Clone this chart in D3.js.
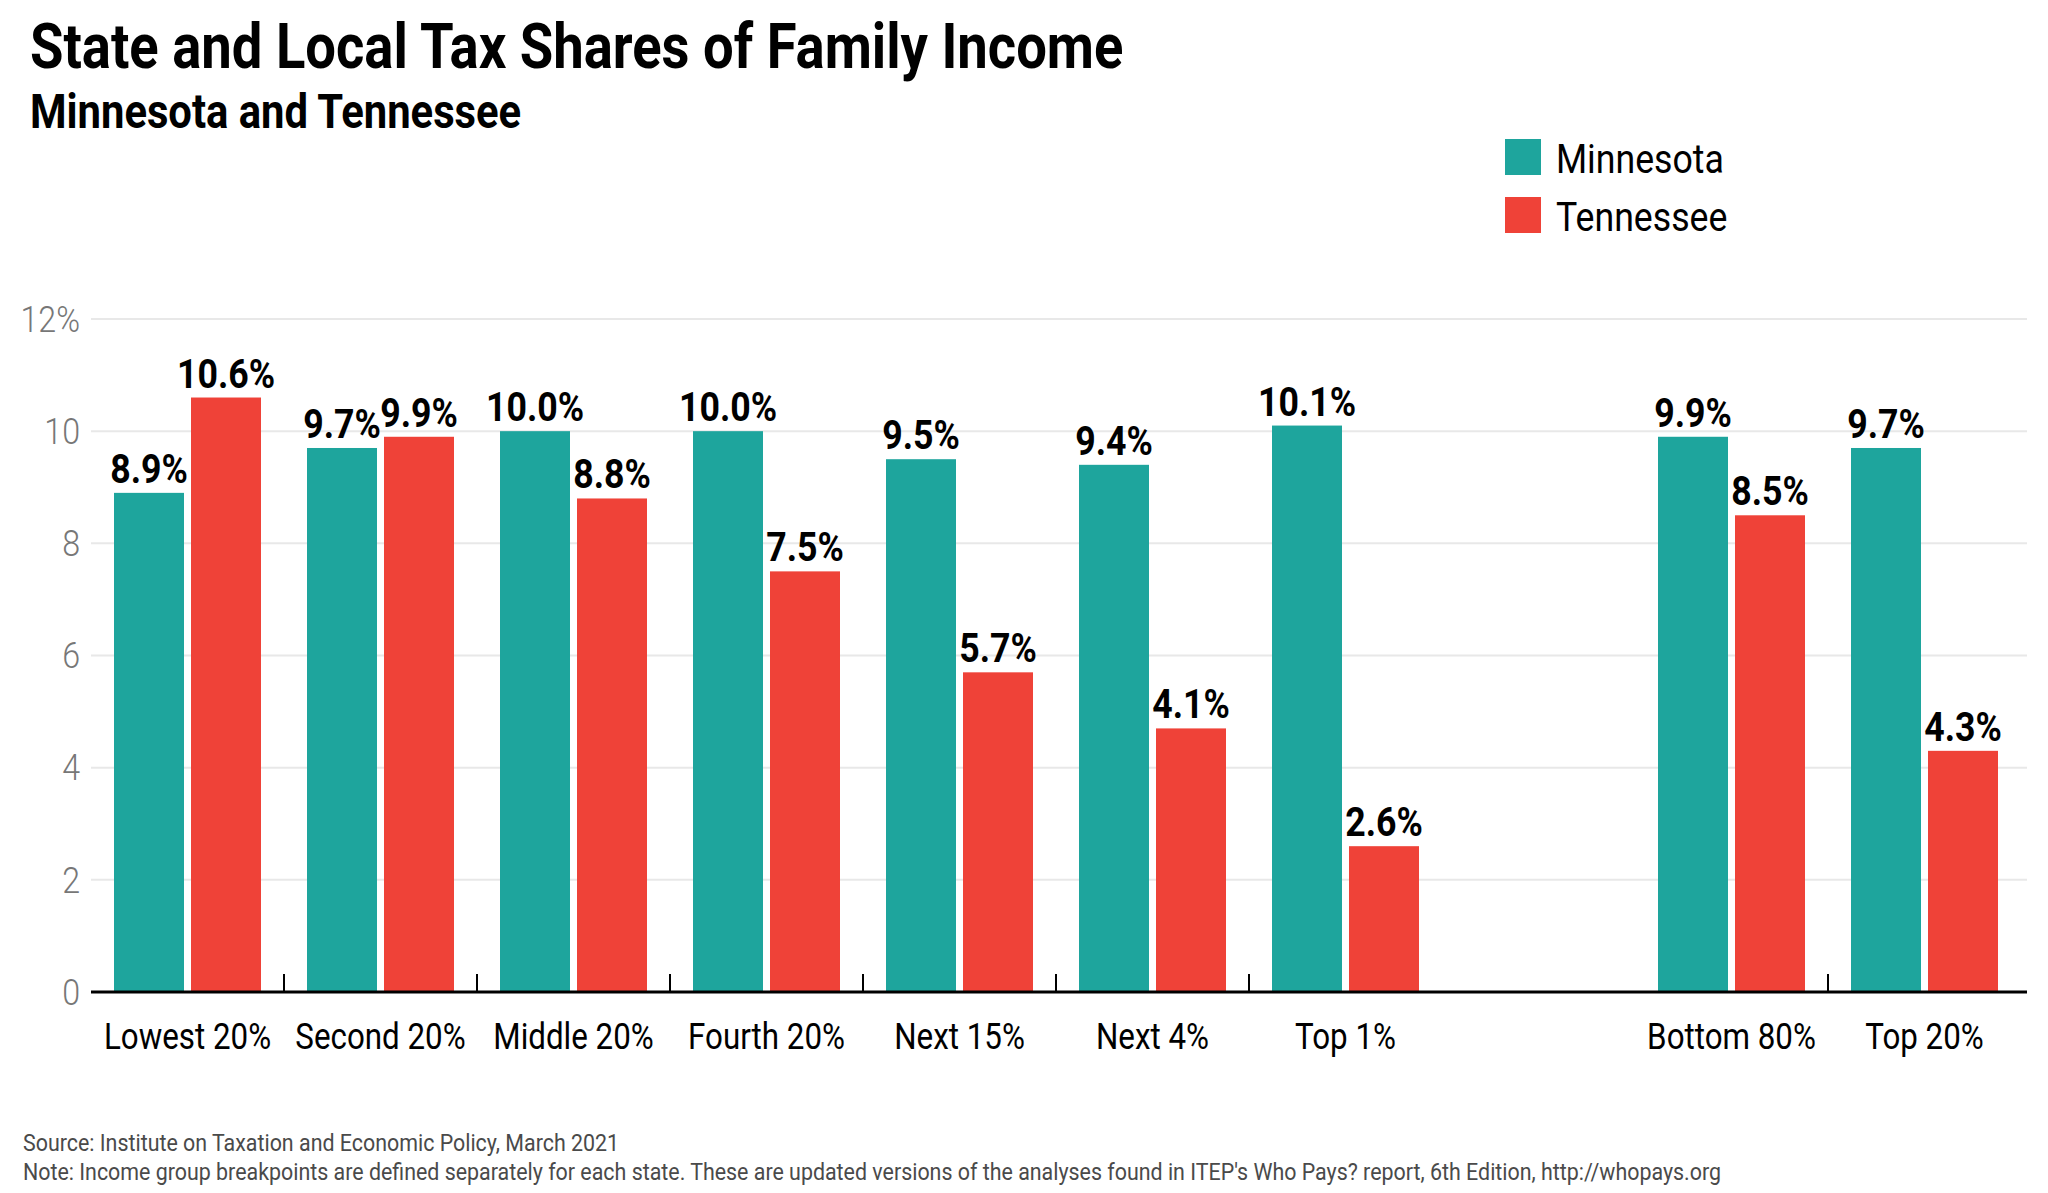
<!DOCTYPE html>
<html lang="en">

<head>
  <meta charset="UTF-8">
  <title>State and Local Tax Shares of Family Income</title>
  <script src="https://d3js.org/d3.v7.min.js"></script>
  <style>
    body {
      margin: 0;
      background: #fff;
    }

    text {
      font-family: Roboto, 'Open Sans', sans-serif;
    }
  </style>
</head>

<body>
  <script>
    var categories = ["Lowest 20%", "Second 20%", "Middle 20%", "Fourth 20%", "Next 15%", "Next 4%", "Top 1%", "Bottom 80%", "Top 20%"];
    var series = ["Minnesota", "Tennessee"];
    var minnesota = [8.9, 9.7, 10.0, 10.0, 9.5, 9.4, 10.1, 9.9, 9.7];
    var tennessee = [10.6, 9.9, 8.8, 7.5, 5.7, 4.7, 2.6, 8.5, 4.3];
    // labels as printed on the chart (Next 4% bar is drawn at 4.7 but labelled 4.1)
    var minnesotaLabels = ["8.9%", "9.7%", "10.0%", "10.0%", "9.5%", "9.4%", "10.1%", "9.9%", "9.7%"];
    var tennesseeLabels = ["10.6%", "9.9%", "8.8%", "7.5%", "5.7%", "4.1%", "2.6%", "8.5%", "4.3%"];
    var yTicks = [0, 2, 4, 6, 8, 10, 12];
    var colors = ["#1ea59d", "#ef4238"];

    var width = 2048,
      height = 1193;

    // condensed look: Roboto squeezed horizontally
    var K = 0.87;

    var svg = d3.select("body").append("svg")
      .attr("width", width)
      .attr("height", height);

    function label(parent, x, y, str, size, weight, fill, anchor) {
      return parent.append("text")
        .attr("transform", "translate(" + x + "," + y + ") scale(" + K + ",1)")
        .attr("font-size", size)
        .attr("font-weight", weight)
        .attr("fill", fill)
        .attr("text-anchor", anchor || "start")
        .text(str);
    }

    // one empty slot between "Top 1%" and "Bottom 80%"
    var slots = categories.slice(0, 7).concat(["_gap"], categories.slice(7));

    var x0 = d3.scaleBand()
      .domain(slots)
      .range([91, 2021]);

    var x1 = d3.scaleBand()
      .domain(series)
      .range([0, x0.bandwidth()])
      .paddingInner(0.0909)
      .paddingOuter(0.2987);

    var y = d3.scaleLinear()
      .domain([0, 12])
      .range([992, 319]);

    // gridlines + y labels
    var grid = svg.append("g");
    grid.selectAll("line")
      .data(yTicks.filter(function (d) { return d > 0; }))
      .enter().append("line")
      .attr("x1", 91)
      .attr("x2", 2027)
      .attr("y1", function (d) { return y(d); })
      .attr("y2", function (d) { return y(d); })
      .attr("stroke", "#e8e8e8")
      .attr("stroke-width", 2);

    yTicks.forEach(function (d) {
      label(grid, 80, y(d), d === 12 ? d + "%" : d, 37, 300, "#777", "end")
        .attr("dominant-baseline", "central");
    });

    // bars
    var data = categories.map(function (c, i) {
      return {
        cat: c,
        vals: [
          { key: series[0], value: minnesota[i], text: minnesotaLabels[i] },
          { key: series[1], value: tennessee[i], text: tennesseeLabels[i] }
        ]
      };
    });

    var groups = svg.append("g").selectAll("g")
      .data(data)
      .enter().append("g")
      .attr("transform", function (d) { return "translate(" + x0(d.cat) + ",0)"; });

    groups.selectAll("rect")
      .data(function (d) { return d.vals; })
      .enter().append("rect")
      .attr("x", function (d) { return x1(d.key); })
      .attr("y", function (d) { return y(d.value); })
      .attr("width", x1.bandwidth())
      .attr("height", function (d) { return y(0) - y(d.value); })
      .attr("fill", function (d, i) { return colors[i]; });

    groups.each(function (d) {
      var g = d3.select(this);
      d.vals.forEach(function (v) {
        label(g, x1(v.key) + x1.bandwidth() / 2, y(v.value) - 10, v.text, 41, 700, "#000", "middle");
      });
    });

    // x axis
    var axis = svg.append("g");
    axis.append("line")
      .attr("x1", 91)
      .attr("x2", 2027)
      .attr("y1", y(0))
      .attr("y2", y(0))
      .attr("stroke", "#000")
      .attr("stroke-width", 3);

    var bounds = [];
    for (var i = 0; i < slots.length - 1; i++) {
      if (slots[i] !== "_gap" && slots[i + 1] !== "_gap") bounds.push(x0(slots[i + 1]));
    }

    axis.selectAll(".tick")
      .data(bounds)
      .enter().append("line")
      .attr("class", "tick")
      .attr("x1", function (d) { return d; })
      .attr("x2", function (d) { return d; })
      .attr("y1", y(0) - 18)
      .attr("y2", y(0))
      .attr("stroke", "#000")
      .attr("stroke-width", 2);

    categories.forEach(function (c) {
      label(axis, x0(c) + x0.bandwidth() / 2, 1049, c, 36, 400, "#000", "middle");
    });

    // titles
    label(svg, 30, 68, "State and Local Tax Shares of Family Income", 62.5, 700, "#000");
    label(svg, 30, 128, "Minnesota and Tennessee", 48, 700, "#000");

    // legend
    var legend = svg.append("g");
    series.forEach(function (s, i) {
      legend.append("rect")
        .attr("x", 1505)
        .attr("y", 139 + i * 58)
        .attr("width", 36)
        .attr("height", 36)
        .attr("fill", colors[i]);
      label(legend, 1556, 173 + i * 58, s, 41, 400, "#000");
    });

    // notes
    label(svg, 23, 1151, "Source: Institute on Taxation and Economic Policy, March 2021", 24.6, 400, "#4a4a4a");
    label(svg, 23, 1180, "Note: Income group breakpoints are defined separately for each state. These are updated versions of the analyses found in ITEP's Who Pays? report, 6th Edition, http://whopays.org", 24.6, 400, "#4a4a4a");
  </script>
</body>

</html>
